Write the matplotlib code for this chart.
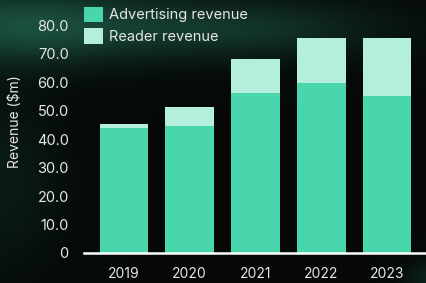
import numpy as np
import matplotlib.pyplot as plt

years = ['2019', '2020', '2021', '2022', '2023']
advertising = [43.9, 44.6, 56.1, 59.6, 55.1]
reader = [1.4, 6.5, 12.0, 15.8, 20.3]
yticks = [0, 10, 20, 30, 40, 50, 60, 70, 80]
ytick_labels = ['0', '10.0', '20.0', '30.0', '40.0', '50.0', '60.0', '70.0', '80.0']

ad_color = '#4ad6ad'
reader_color = '#b3efdc'
text_color = '#e6e6e6'
font = 'Inter'

W, H = 427, 283
fig = plt.figure(figsize=(W / 100, H / 100), dpi=100)

# dark background with a soft teal glow along the top
bg_ax = fig.add_axes([0, 0, 1, 1])
yy, xx = np.mgrid[0:H, 0:W]
base = np.array([0.02, 0.035, 0.03])
glow = np.array([0.12, 0.36, 0.29])
g = (0.8 * np.exp(-((xx - 20) / 130.0) ** 2 - ((yy - 25) / 38.0) ** 2)
     + 0.5 * np.exp(-((xx - 240) / 140.0) ** 2 - ((yy - 28) / 30.0) ** 2)
     + 0.22 * np.exp(-((xx - 0) / 60.0) ** 2 - ((yy - 180) / 90.0) ** 2)
     + 0.30 * np.exp(-((xx - 430) / 25.0) ** 2 - ((yy - 280) / 20.0) ** 2))
g = np.clip(g, 0, 1)[..., None]
img = base * (1 - g) + glow * g
bg_ax.imshow(img, aspect='auto', extent=[0, W, H, 0])
bg_ax.axis('off')

ax = fig.add_axes([84 / W, 30 / H, (W - 84) / W, 253 / H])
ax.patch.set_alpha(0)
x = np.arange(len(years))
ax.bar(x, advertising, width=0.73, color=ad_color, label='Advertising revenue', zorder=2)
ax.bar(x, reader, width=0.73, bottom=advertising, color=reader_color,
       label='Reader revenue', zorder=2)

ax.set_xlim(-0.6, 4.6)
ax.set_ylim(0, 88.8)
ax.set_xticks(x)
ax.set_xticklabels(years, color=text_color, fontsize=10, family=font)
ax.set_yticks(yticks)
ax.set_yticklabels(ytick_labels, color=text_color, fontsize=10.5, family=font)
ax.tick_params(axis='both', length=0)
ax.tick_params(axis='y', pad=11)
ax.tick_params(axis='x', pad=10)
for side in ['top', 'right', 'left']:
    ax.spines[side].set_visible(False)
ax.spines['bottom'].set_color('white')
ax.spines['bottom'].set_linewidth(1.8)
ax.spines['bottom'].set_zorder(3)

fig.text(15 / W, 1 - 122 / H, 'Revenue ($m)', rotation=90, color=text_color,
         fontsize=10, family=font, ha='center', va='center')

leg = ax.legend(loc='upper left', bbox_to_anchor=(-0.035, 1.02), frameon=False,
                prop={'family': font, 'size': 10.5}, labelcolor=text_color,
                handlelength=1.3, handleheight=1.25, handletextpad=0.42,
                labelspacing=0.42, borderpad=0.3)

fig.savefig('out.png', dpi=100)
